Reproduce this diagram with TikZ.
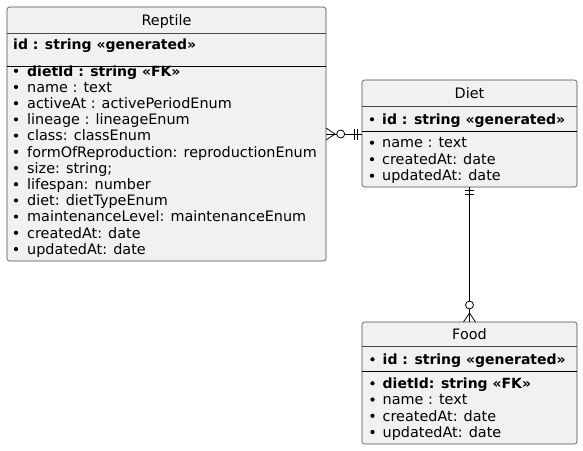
\documentclass[tikz,border=0pt]{standalone}
\usepackage{fontspec}
\setmainfont{DejaVu Sans}
\usetikzlibrary{calc}
\definecolor{boxfill}{HTML}{F1F1F1}
\definecolor{boxline}{HTML}{4A4A4A}
\begin{document}
\begin{tikzpicture}[x=1pt,y=-1pt,
  box/.style={draw=boxline, fill=boxfill, rounded corners=2.5pt, line width=0.6pt, inner sep=0, outer sep=0},
  txt/.style={anchor=mid west, inner sep=0, yshift=-2.5pt, font=\fontsize{14.4}{16}\selectfont},
  btxt/.style={txt, font=\fontsize{14}{16}\selectfont\bfseries},
  ttl/.style={anchor=mid, inner sep=0, yshift=-2.5pt, font=\fontsize{14.4}{16}\selectfont},
  bul/.style={fill=black, circle, inner sep=0, minimum size=4.2pt},
  sepgray/.style={draw=boxline, line width=0.6pt},
  sepblack/.style={draw=black, line width=0.9pt},
  conn/.style={draw=black, line width=0.8pt}]
\useasboundingbox (0,0) rectangle (583,450);

% ---------- Reptile ----------
\node[box, anchor=north west, minimum width=319, minimum height=254] (reptile) at (7,7) {};
\draw[sepgray] (7,33.3) -- (326,33.3);
\draw[sepblack] (7,66.3) -- (326,66.3);
\node[ttl] (rtitle) at (166.5,20.5) {Reptile};
\node[btxt] (rid) at (13,44.5) {id : string «generated»};
\node[bul] (rb0) at (16,70.8) {};
\node[btxt] (ra0) at (27,70.8) {dietId : string «FK»};
\foreach \t [count=\i] in {{name : text},{activeAt : activePeriodEnum},{lineage : lineageEnum},{class: classEnum},{formOfReproduction: reproductionEnum},{size: string;},{lifespan: number},{diet: dietTypeEnum},{maintenanceLevel: maintenanceEnum},{createdAt: date},{updatedAt: date}}{
  \node[bul] (rb\i) at (16,70.8+16.2*\i) {};
  \node[txt] (ra\i) at (27,70.8+16.2*\i) {\t};
}

% ---------- Diet ----------
\node[box, anchor=north west, minimum width=215, minimum height=107] (diet) at (362,80) {};
\draw[sepgray] (362,106) -- (577,106);
\draw[sepblack] (362,131) -- (577,131);
\node[ttl] (dtitle) at (469.5,93) {Diet};
\node[bul] (db0) at (372,119.3) {};
\node[btxt] (da0) at (382,119.3) {id : string «generated»};
\node[bul] (db1) at (372,142.7) {};
\node[txt] (da1) at (382,142.7) {name : text};
\node[bul] (db2) at (372,159.2) {};
\node[txt] (da2) at (382,159.2) {createdAt: date};
\node[bul] (db3) at (372,175.7) {};
\node[txt] (da3) at (382,175.7) {updatedAt: date};

% ---------- Food ----------
\node[box, anchor=north west, minimum width=215, minimum height=122] (food) at (362,322) {};
\draw[sepgray] (362,346) -- (577,346);
\draw[sepblack] (362,371) -- (577,371);
\node[ttl] (ftitle) at (469.5,334) {Food};
\node[bul] (fb0) at (372.5,359.3) {};
\node[btxt] (fa0) at (382.5,359.3) {id : string «generated»};
\node[bul] (fb1) at (372.5,383.3) {};
\node[btxt] (fa1) at (382.5,383.3) {dietId: string «FK»};
\node[bul] (fb2) at (372.5,399.5) {};
\node[txt] (fa2) at (382.5,399.5) {name : text};
\node[bul] (fb3) at (372.5,415.8) {};
\node[txt] (fa3) at (382.5,415.8) {createdAt: date};
\node[bul] (fb4) at (372.5,432) {};
\node[txt] (fa4) at (382.5,432) {updatedAt: date};

% ---------- Reptile }o--|| Diet ----------
\coordinate (rd1) at (reptile.east);
\coordinate (rd2) at (reptile.east -| diet.west);
\draw[conn] (rd1) -- (rd2);
\draw[conn] ($(rd1)+(0,-6)$) -- ($(rd1)+(9,0)$) -- ($(rd1)+(0,6)$);
\draw[conn, fill=white] ($(rd1)+(14.7,0)$) circle (4);
\draw[conn] ($(rd2)+(-8,-5.5)$) -- ($(rd2)+(-8,5.5)$);
\draw[conn] ($(rd2)+(-5,-5.5)$) -- ($(rd2)+(-5,5.5)$);

% ---------- Diet ||--o{ Food ----------
\coordinate (df1) at (diet.south);
\coordinate (df2) at (food.north);
\draw[conn] (df1) -- (df2);
\draw[conn] ($(df1)+(-4.7,3)$) -- ($(df1)+(4.7,3)$);
\draw[conn] ($(df1)+(-4.7,7)$) -- ($(df1)+(4.7,7)$);
\draw[conn] ($(df2)+(-6,0)$) -- ($(df2)+(0,-9)$) -- ($(df2)+(6,0)$);
\draw[conn, fill=white] ($(df2)+(0,-17)$) circle (4);
\end{tikzpicture}
\end{document}
